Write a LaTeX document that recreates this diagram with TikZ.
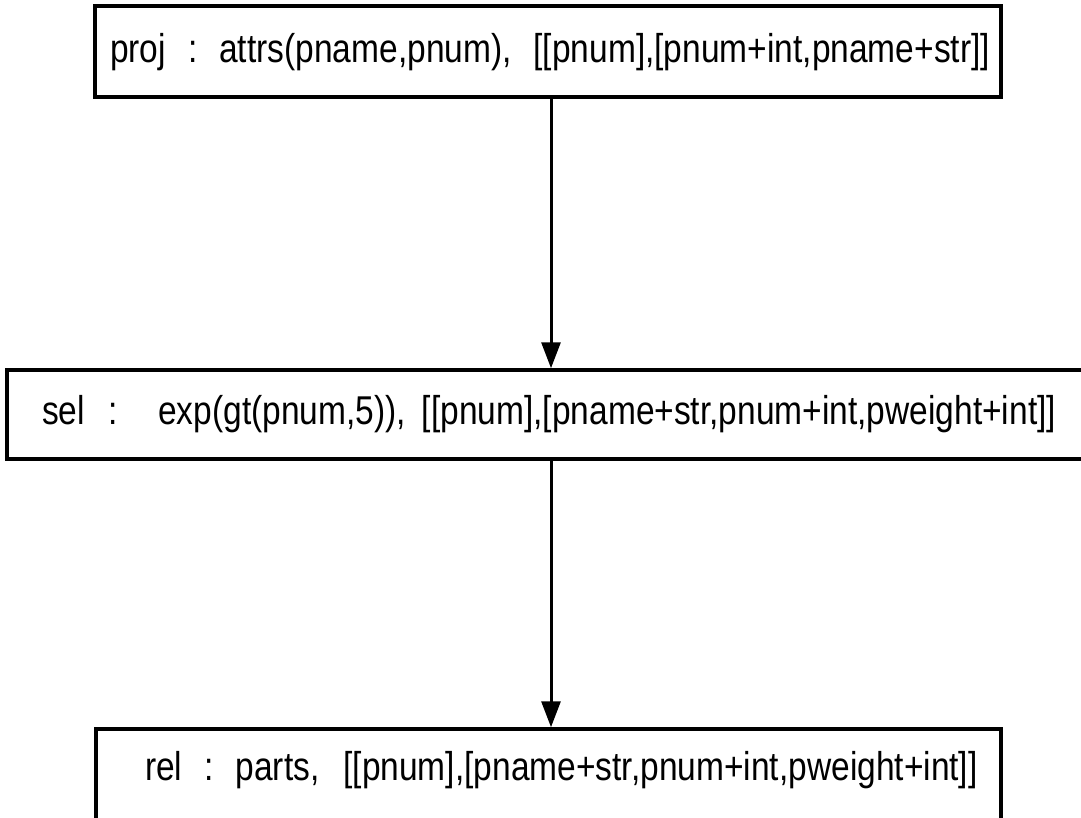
\documentclass[tikz,border=0pt]{standalone}
\usepackage{fontspec}
\setmainfont{Liberation Sans}
\usepackage{graphicx}
\usetikzlibrary{arrows.meta}
\newcommand{\vstretch}[1]{\scalebox{1}[1.2]{#1}}
\begin{document}
\begin{tikzpicture}[x=1pt,y=-1pt,
  box/.style={draw,line width=3.5pt,rectangle,inner sep=0pt},
  lbl/.style={anchor=base west,inner sep=0pt,font=\fontsize{33.5}{40}\selectfont},
  flow/.style={line width=3pt,-{Triangle[length=26pt,width=19pt]}}]
\useasboundingbox (0,0) rectangle (1081,817);
\clip (0,0) rectangle (1081,817);
\node[box,minimum width=906pt,minimum height=91pt] (proj) at (548,51.5) {};
\node[box,minimum width=1088pt,minimum height=89pt] (sel) at (551,414.5) {};
\node[box,minimum width=905pt,minimum height=101pt] (rel) at (548.5,779.5) {};
\node[lbl] (tproj) at (110,62) {\vstretch{proj\hspace{22pt}:\hspace{22pt}attrs(pname,pnum),\hspace{22pt}[[pnum],[pnum+int,pname+str]]}};
\node[lbl] (tsel) at (42,424) {\vstretch{sel\hspace{24pt}:\hspace{40pt}exp(gt(pnum,5)),\hspace{16pt}[[pnum],[pname+str,pnum+int,pweight+int]]}};
\node[lbl] (trel) at (145,780) {\vstretch{rel\hspace{22pt}:\hspace{22pt}parts,\hspace{24pt}[[pnum],[pname+str,pnum+int,pweight+int]]}};
\draw[flow] (proj.south -| sel.north) -- (sel.north);
\draw[flow] (sel.south) -- (sel.south |- rel.north);
\end{tikzpicture}
\end{document}
